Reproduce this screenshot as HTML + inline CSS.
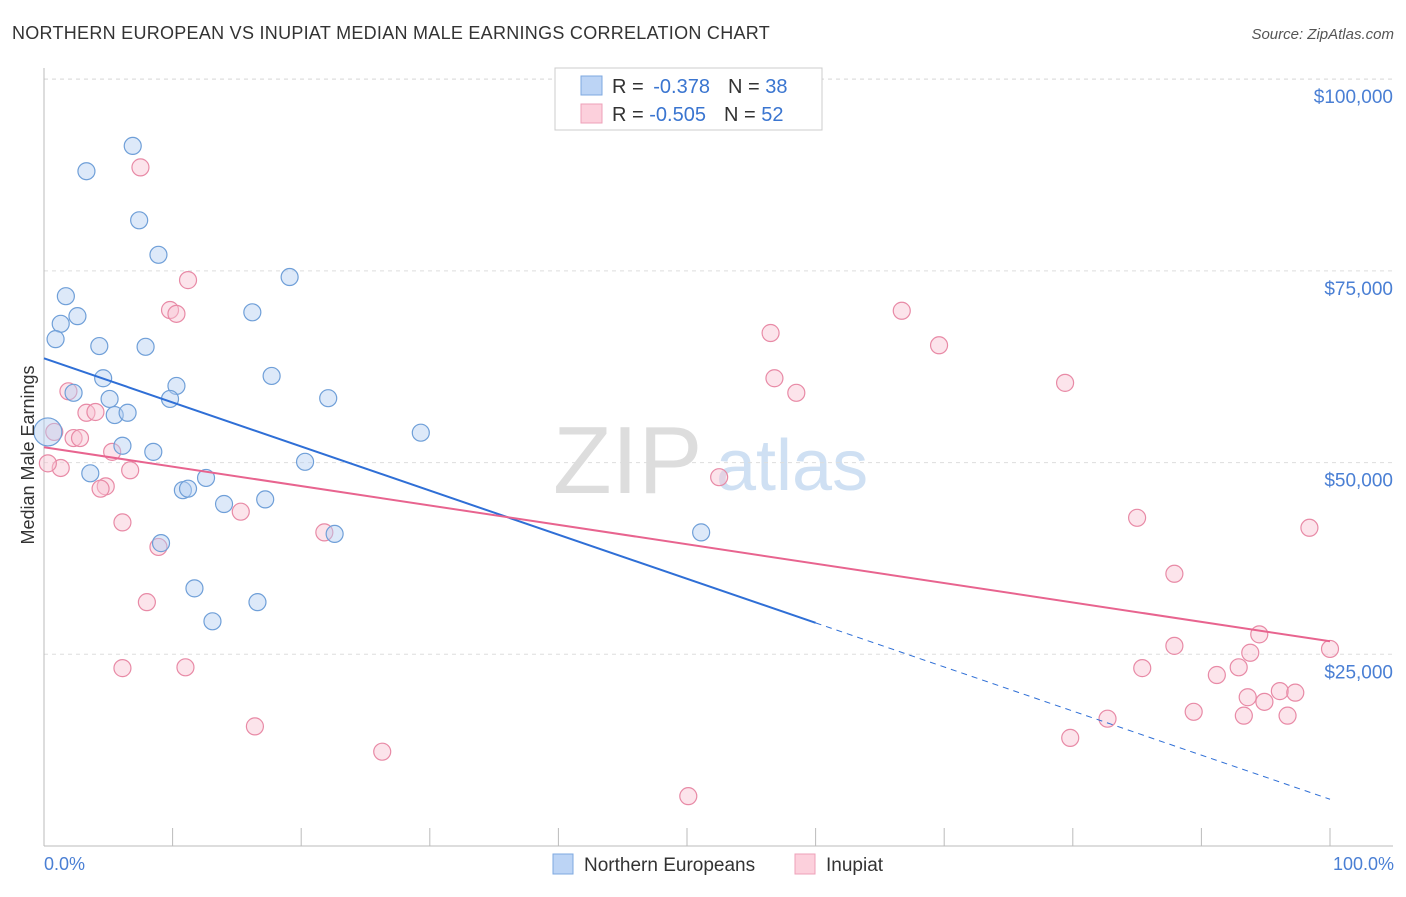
<!DOCTYPE html>
<html><head><meta charset="utf-8"><style>
body{margin:0;background:#fff;font-family:"Liberation Sans",sans-serif;}
svg text{font-family:"Liberation Sans",sans-serif;}
</style></head><body>
<svg id="chart" width="1406" height="892">
<text x="12" y="39" font-size="18" letter-spacing="0.3" textLength="758" fill="#333">NORTHERN EUROPEAN VS INUPIAT MEDIAN MALE EARNINGS CORRELATION CHART</text>
<text x="1394" y="39" font-size="15" fill="#555" font-style="italic" text-anchor="end">Source: ZipAtlas.com</text>
<g>
<text x="553" y="493" font-size="96" fill="#ddd" font-family="Liberation Serif">ZIP</text>
<text x="716" y="490" font-size="72" fill="#cfe0f3">atlas</text>
</g>
<g id="grid"></g><g id="axes"></g><g id="marks"></g>
<text transform="translate(34,455) rotate(-90)" font-size="18" fill="#333" text-anchor="middle">Median Male Earnings</text>
<text x="44" y="870" font-size="18" fill="#4a7fd4">0.0%</text>
<text x="1394" y="870" font-size="18" fill="#4a7fd4" text-anchor="end">100.0%</text>
<g>
<rect x="555" y="68" width="267" height="62" fill="#fff" stroke="#ccc"/>
<rect x="581" y="76" width="21" height="19" fill="#bcd4f5" stroke="#7ea8e0"/>
<rect x="581" y="104" width="21" height="19" fill="#fcd0dc" stroke="#eea0b8"/>
<text x="612" y="93" font-size="20" fill="#333">R = <tspan fill="#3a75d0" dx="4">-0.378</tspan><tspan dx="18">N = </tspan><tspan fill="#3a75d0">38</tspan></text>
<text x="612" y="121" font-size="20" fill="#333">R = <tspan fill="#3a75d0">-0.505</tspan><tspan dx="18">N = </tspan><tspan fill="#3a75d0">52</tspan></text>
</g>
<g>
<rect x="553" y="854" width="20" height="20" fill="#bcd4f5" stroke="#7ea8e0"/>
<text x="584" y="871" font-size="19" fill="#333">Northern Europeans</text>
<rect x="795" y="854" width="20" height="20" fill="#fcd0dc" stroke="#eea0b8"/>
<text x="826" y="871" font-size="19" fill="#333">Inupiat</text>
</g>
</svg>
<script>
const yTicks=[25,50,75,100];
const yTickLabels=["$25,000","$50,000","$75,000","$100,000"];
const xTicks=[0,10,20,30,40,50,60,70,80,90,100];
const blueX=[6.9,3.3,7.4,8.9,19.1,1.7,16.2,1.3,2.6,0.9,4.3,7.9,4.6,17.7,10.3,2.3,5.1,9.8,22.1,5.5,6.5,29.3,6.1,8.5,20.3,3.6,12.6,10.8,11.2,17.2,14.0,22.6,51.1,9.1,11.7,16.6,13.1];
const blueY=[91.3,88.0,81.6,77.1,74.2,71.7,69.6,68.1,69.1,66.1,65.2,65.1,61.0,61.3,60.0,59.1,58.3,58.3,58.4,56.2,56.5,53.9,52.2,51.4,50.1,48.6,48.0,46.4,46.6,45.2,44.6,40.7,40.9,39.5,33.6,31.8,29.3];
const blueBigX=[0.3], blueBigY=[54.0];
const pinkX=[7.5,11.2,9.8,10.3,66.7,56.5,69.6,56.8,79.4,58.5,1.9,3.3,4.0,0.8,2.3,2.8,5.3,1.3,6.7,0.3,4.8,4.4,52.5,15.3,85.0,6.1,21.8,98.4,8.9,87.9,8.0,87.9,94.5,100.0,93.8,6.1,11.0,85.4,92.9,91.2,96.1,93.6,97.3,94.9,89.4,93.3,96.7,82.7,16.4,79.8,26.3,50.1];
const pinkY=[88.5,73.8,69.9,69.4,69.8,66.9,65.3,61.0,60.4,59.1,59.3,56.5,56.6,54.0,53.2,53.2,51.4,49.3,49.0,49.9,46.9,46.6,48.1,43.6,42.8,42.2,40.9,41.5,39.0,35.5,31.8,26.1,27.6,25.7,25.2,23.2,23.3,23.2,23.3,22.3,20.2,19.4,20.0,18.8,17.5,17.0,17.0,16.6,15.6,14.1,12.3,6.5];
const blueTrend=[63.6,29.1,6.1];
const blueTrendX=[0,60,100];
const pinkTrend=[52.0,26.7];
const pinkTrendX=[0,100];

const NS="http://www.w3.org/2000/svg";
const sx=v=>44+v*12.86;
const sy=v=>846-v*7.668;
function mk(parent,tag,attrs){const e=document.createElementNS(NS,tag);for(const k in attrs)e.setAttribute(k,attrs[k]);document.getElementById(parent).appendChild(e);return e;}
let e;
e=mk('grid','line',{x1:44,x2:1393,y1:79,y2:79,stroke:'#ddd','stroke-dasharray':'4,4'});


yTicks.forEach((t,i)=>{
 e=mk('grid','line',{x1:44,x2:1393,y1:sy(t),y2:sy(t),stroke:'#ddd','stroke-dasharray':'4,4'});
 
 
 e=mk('axes','text',{x:1393,y:sy(t)+24,'font-size':19,fill:'#4a7fd4','text-anchor':'end'});
 e.textContent=yTickLabels[i];
 
 
});
e=mk('axes','line',{x1:44,x2:44,y1:68,y2:846,stroke:'#bbb'});


e=mk('axes','line',{x1:44,x2:1393,y1:846,y2:846,stroke:'#bbb'});


xTicks.forEach(t=>{
 e=mk('axes','line',{x1:sx(t),x2:sx(t),y1:828,y2:846,stroke:'#bbb'});
 
 
});
function dot(x,y,r,fill,stroke,name){
 e=mk('marks','circle',{cx:sx(x),cy:sy(y),r:r,fill:fill,'fill-opacity':0.45,stroke:stroke,'stroke-width':1.2});
 
 
}
pinkX.forEach((x,i)=>dot(x,pinkY[i],8.5,'#f8c4d3','#e88aa6','inupiat-point'));
blueX.forEach((x,i)=>dot(x,blueY[i],8.5,'#b4cff2','#6f9fd8','northern-european-point'));
blueBigX.forEach((x,i)=>dot(x,blueBigY[i],14,'#b4cff2','#6f9fd8','northern-european-point-large'));
e=mk('marks','line',{x1:sx(blueTrendX[0]),y1:sy(blueTrend[0]),x2:sx(blueTrendX[1]),y2:sy(blueTrend[1]),stroke:'#2f6fd6','stroke-width':2});


e=mk('marks','line',{x1:sx(blueTrendX[1]),y1:sy(blueTrend[1]),x2:sx(blueTrendX[2]),y2:sy(blueTrend[2]),stroke:'#2f6fd6','stroke-width':1,'stroke-dasharray':'6,5'});


e=mk('marks','line',{x1:sx(pinkTrendX[0]),y1:sy(pinkTrend[0]),x2:sx(pinkTrendX[1]),y2:sy(pinkTrend[1]),stroke:'#e8648f','stroke-width':2});


</script>
</body></html>
